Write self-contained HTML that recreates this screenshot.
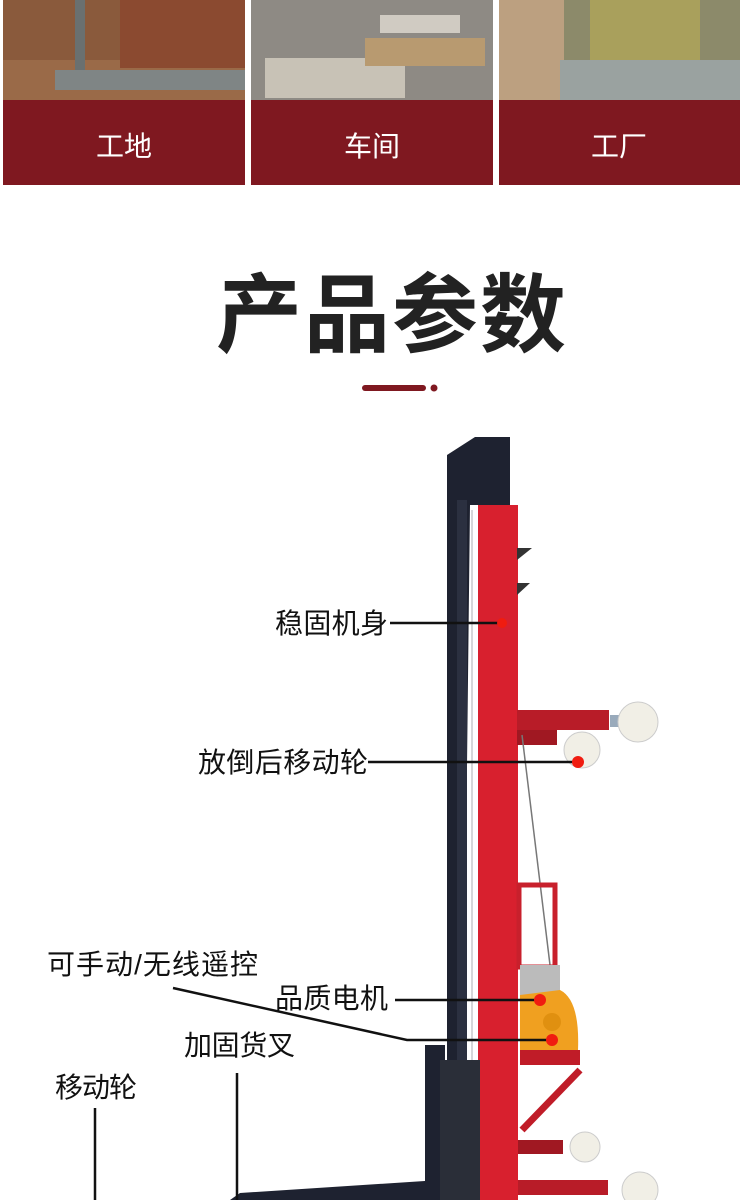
<!DOCTYPE html>
<html><head><meta charset="utf-8"><style>
body{margin:0;width:750px;height:1200px;background:#fff;overflow:hidden;font-family:"Liberation Sans","Noto Sans CJK SC",sans-serif}
</style></head><body>
<svg width="750" height="1200" xmlns="http://www.w3.org/2000/svg" style="position:absolute;left:0;top:0">
<rect x="3" y="0" width="242" height="100" fill="#8a5a3c"/>
<rect x="3" y="60" width="242" height="40" fill="#9a6a48"/>
<rect x="75" y="0" width="10" height="90" fill="#6a7070"/>
<rect x="120" y="0" width="125" height="68" fill="#8b4a30"/>
<rect x="55" y="70" width="190" height="20" fill="#7f8585"/>
<rect x="251" y="0" width="242" height="100" fill="#8e8a84"/>
<rect x="265" y="58" width="140" height="40" fill="#c8c2b6"/>
<rect x="365" y="38" width="120" height="28" fill="#b89a70"/>
<rect x="380" y="15" width="80" height="18" fill="#d0cbc2"/>
<rect x="499" y="0" width="241" height="100" fill="#8c8a6a"/>
<rect x="499" y="0" width="65" height="100" fill="#bca080"/>
<rect x="590" y="0" width="110" height="75" fill="#a9a05c"/>
<rect x="560" y="60" width="180" height="40" fill="#9aa2a0"/>
<rect x="3" y="100" width="242" height="85" fill="#7f1820"/>
<rect x="251" y="100" width="242" height="85" fill="#7f1820"/>
<rect x="499" y="100" width="241" height="85" fill="#7f1820"/>
<g fill="#fff" font-size="28" text-anchor="middle">
<text x="124" y="156">工地</text><text x="372" y="156">车间</text><text x="619" y="156">工厂</text>
</g>
<text x="392" y="345" font-size="86" font-weight="bold" text-anchor="middle" fill="#222" letter-spacing="2">产品参数</text>
<rect x="362" y="385" width="64" height="6" rx="3" fill="#7f1820"/>
<circle cx="434" cy="388" r="3.5" fill="#7f1820"/>
<polygon points="447,455 475,437 510,437 510,505 470,505 462,1200 447,1200" fill="#1e2230"/>
<rect x="457" y="500" width="10" height="700" fill="#2b3040"/>
<line x1="472" y1="510" x2="472" y2="1200" stroke="#c8c8cc" stroke-width="1.5"/>
<rect x="478" y="505" width="40" height="695" fill="#d8202e"/>
<polygon points="517,548 532,548 517,560" fill="#333"/>
<polygon points="517,583 530,583 517,595" fill="#333"/>
<rect x="517" y="710" width="92" height="20" fill="#b81c28"/>
<rect x="517" y="730" width="40" height="15" fill="#a01822"/>
<rect x="610" y="715" width="20" height="12" fill="#9ab"/>
<circle cx="638" cy="722" r="20" fill="#f1efe6" stroke="#ccc"/>
<circle cx="582" cy="750" r="18" fill="#f1efe6" stroke="#ccc"/>
<line x1="522" y1="735" x2="550" y2="965" stroke="#777" stroke-width="1.5"/>
<rect x="519" y="885" width="36" height="82" fill="none" stroke="#c8202c" stroke-width="5"/>
<rect x="520" y="965" width="40" height="30" fill="#bbb"/>
<path d="M520 995 L560 990 Q580 1000 578 1050 L520 1050Z" fill="#f0a020"/>
<circle cx="552" cy="1022" r="9" fill="#e09010"/>
<rect x="520" y="1050" width="60" height="15" fill="#c01c28"/>
<line x1="580" y1="1070" x2="522" y2="1130" stroke="#c01c28" stroke-width="7"/>
<rect x="518" y="1140" width="45" height="14" fill="#a01822"/>
<circle cx="585" cy="1147" r="15" fill="#f1efe6" stroke="#ccc"/>
<rect x="518" y="1180" width="90" height="15" fill="#b81c28"/>
<circle cx="640" cy="1190" r="18" fill="#f1efe6" stroke="#ccc"/>
<rect x="425" y="1045" width="20" height="155" fill="#1e2230"/>
<rect x="440" y="1060" width="40" height="140" fill="#2a2e38"/>
<polygon points="230,1200 240,1193 440,1180 440,1200" fill="#1e2230"/>
<g stroke="#111" stroke-width="2.5" fill="none">
<line x1="390" y1="623" x2="500" y2="623"/>
<line x1="368" y1="762" x2="578" y2="762"/>
<polyline points="173,988 407,1040 550,1040"/>
<line x1="395" y1="1000" x2="540" y2="1000"/>
<line x1="237" y1="1073" x2="237" y2="1200"/>
<line x1="95" y1="1108" x2="95" y2="1200"/>
</g>
<g fill="#f01c10">
<circle cx="502" cy="623" r="5"/><circle cx="578" cy="762" r="6"/>
<circle cx="540" cy="1000" r="6"/><circle cx="552" cy="1040" r="6"/>
</g>
<g fill="#111" font-size="28">
<text x="275" y="633" textLength="113">稳固机身</text>
<text x="198" y="772" textLength="170">放倒后移动轮</text>
<text x="47" y="974" textLength="211">可手动/无线遥控</text>
<text x="275" y="1008" textLength="113">品质电机</text>
<text x="184" y="1055" textLength="111">加固货叉</text>
<text x="55" y="1097" textLength="82">移动轮</text>
</g>
</svg>
</body></html>
